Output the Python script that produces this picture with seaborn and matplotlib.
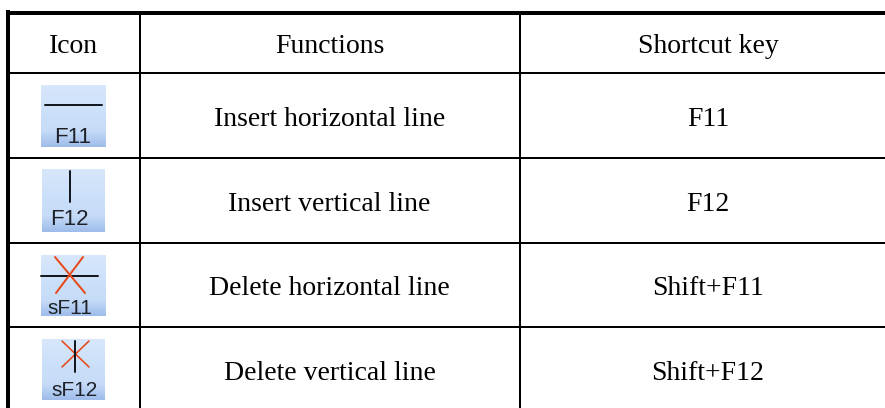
import numpy as np
import matplotlib
matplotlib.use('Agg')
import matplotlib.pyplot as plt
import seaborn as sns

# Table content
headers = ['Icon', 'Functions', 'Shortcut key']
icon_labels = ['F11', 'F12', 'sF11', 'sF12']
functions = ['Insert horizontal line', 'Insert vertical line', 'Delete horizontal line', 'Delete vertical line']
shortcuts = ['F11', 'F12', 'Shift+F11', 'Shift+F12']

sns.set_theme(style='white')
plt.rcParams['font.family'] = ['Liberation Serif', 'DejaVu Sans']

fig = plt.figure(figsize=(8.85, 4.08), dpi=100)
ax = fig.add_axes([0, 0, 1, 1])
px = 0.72  # one pixel in points

# table grid
row_lines = [73, 157.5, 242.7, 326.7]
col_lines = [140, 520]
ax.hlines(13, 6, 885, color='black', lw=4 * px)
ax.vlines(8, 10, 408, color='black', lw=4 * px)
ax.hlines(row_lines, 8, 885, color='black', lw=2 * px)
ax.vlines(col_lines, 13, 408, color='black', lw=2 * px)

# table text
col_centers = [74, 329.5, 708]
ax.text(col_centers[0], 53, headers[0], ha='center', va='baseline', fontsize=20, color='black')
ax.text(col_centers[1], 53, headers[1], ha='center', va='baseline', fontsize=20, color='black')
ax.text(col_centers[2], 53, headers[2], ha='center', va='baseline', fontsize=20, color='black')
row_base = [126, 211, 295, 380]
for y, f, s in zip(row_base, functions, shortcuts):
    ax.text(col_centers[1], y, f, ha='center', va='baseline', fontsize=20, color='black')
    ax.text(col_centers[2], y, s, ha='center', va='baseline', fontsize=20, color='black')

# icon backgrounds
icon_cmap = sns.blend_palette(['#D8E7FB', '#D0E3FA', '#C9DFF9', '#C5DBF7', '#9FBDEB'], as_cmap=True)
icon_boxes = [(41, 106, 147, 85), (42, 105, 232, 169), (41, 106, 316, 255), (42, 105, 400, 339)]
ramp = np.linspace(0, 1, 64).reshape(-1, 1)
for box in icon_boxes:
    ax.imshow(ramp, cmap=icon_cmap, extent=box, aspect='auto', origin='upper', zorder=2)

# icon strokes
ink = '#14181F'
red = '#E8491A'
ax.plot([45, 102], [104.5, 104.5], color=ink, lw=2 * px, zorder=3)
ax.plot([69.5, 69.5], [171, 201.5], color=ink, lw=2 * px, zorder=3)
ax.plot([41, 98], [276, 276], color=ink, lw=2 * px, zorder=3)
ax.plot([55, 85], [257, 293], color=red, lw=2 * px, zorder=3)
ax.plot([83, 56], [257, 293], color=red, lw=2 * px, zorder=3)
ax.plot([62, 89], [341, 367], color=red, lw=1.6 * px, zorder=3)
ax.plot([89, 62], [341, 367], color=red, lw=1.6 * px, zorder=3)
ax.plot([75, 75], [341, 372], color=ink, lw=2 * px, zorder=4)

# icon captions
label_x = [73, 69.5, 70, 75]
label_y = [143, 225, 314, 396]
label_size = [16, 16, 15, 15]
for x, y, t, sz in zip(label_x, label_y, icon_labels, label_size):
    ax.text(x, y, t, ha='center', va='baseline', fontsize=sz, color='#1E2228',
            family=['Liberation Sans Narrow', 'Liberation Sans'], zorder=5)

ax.set_xlim(0, 885)
ax.set_ylim(408, 0)
ax.axis('off')
fig.savefig('out.png', dpi=100, facecolor='white')
